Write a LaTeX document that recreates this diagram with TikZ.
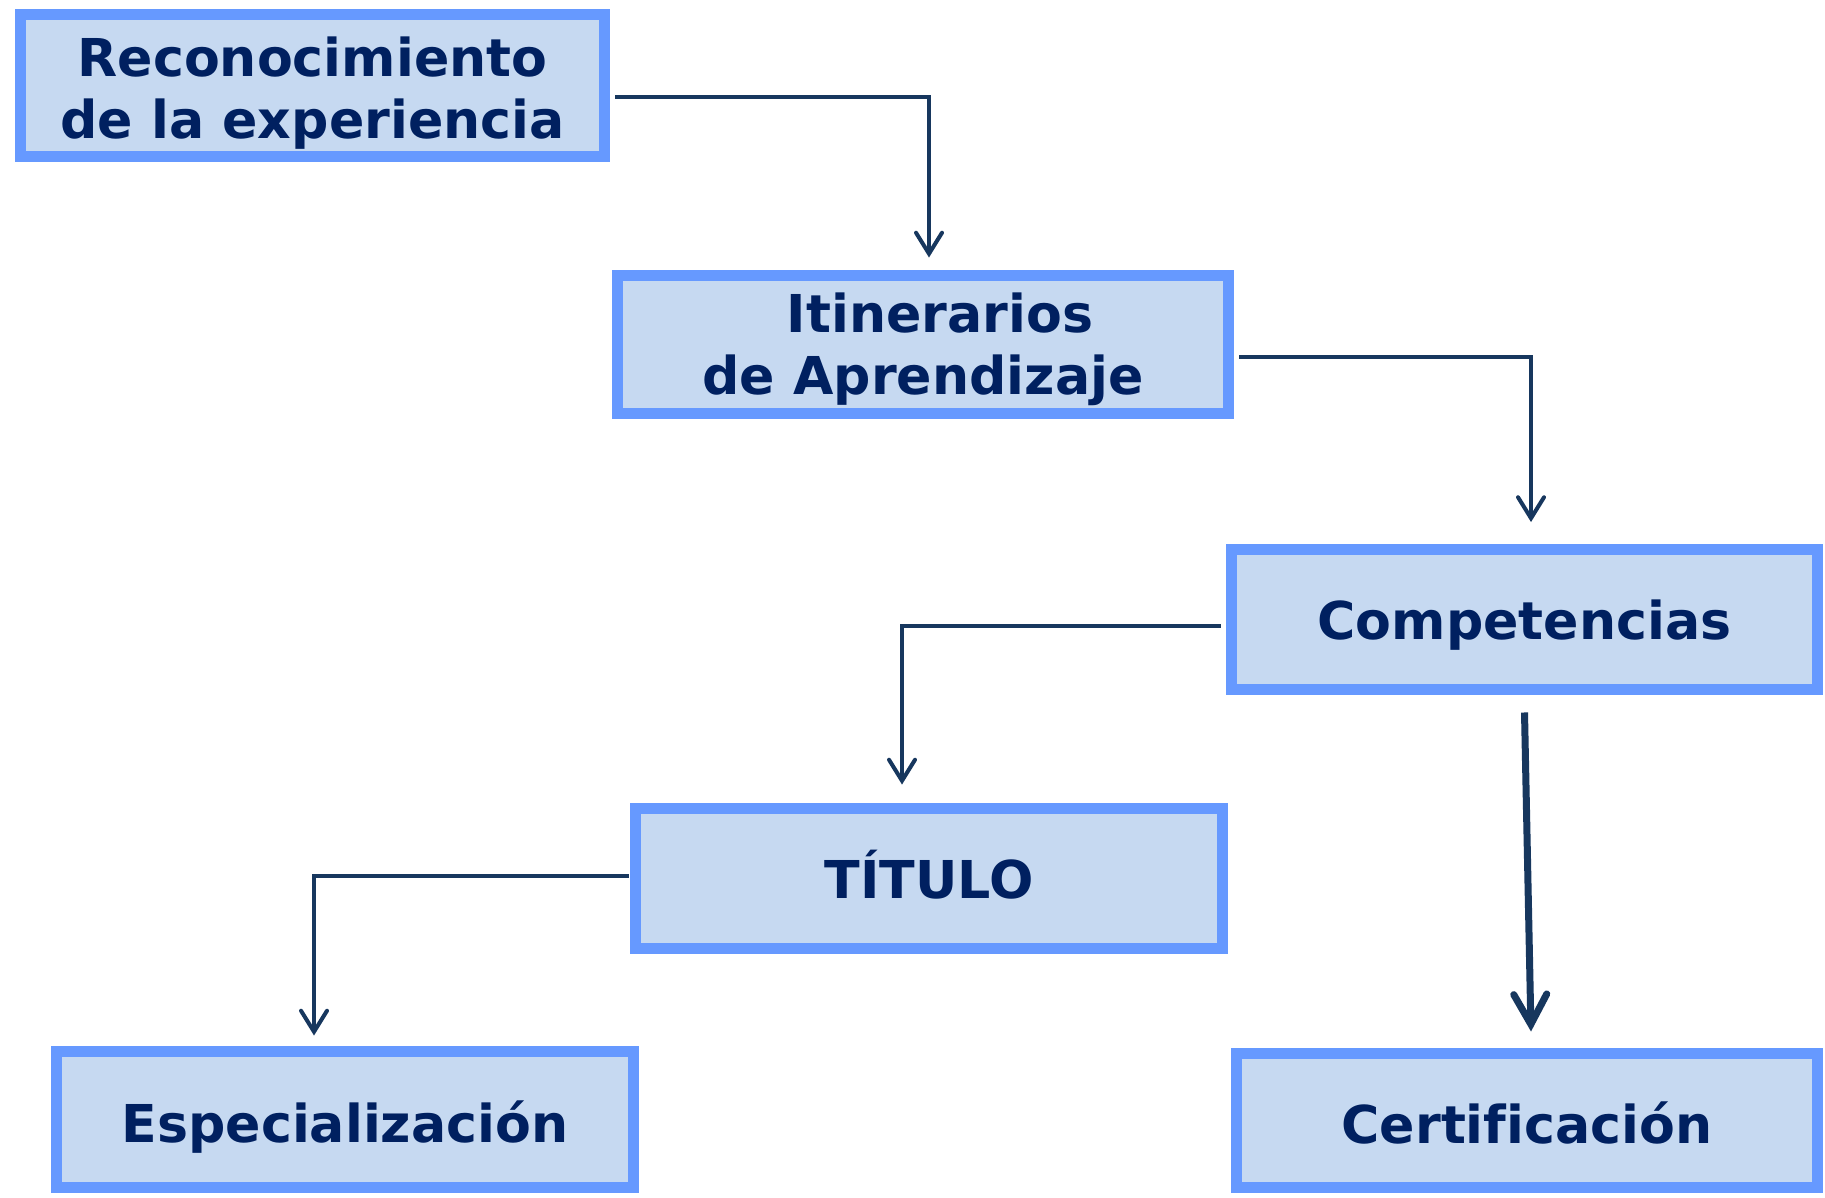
\documentclass[tikz,border=0pt]{standalone}
\usepackage{fontspec}
\setmainfont{DejaVu Sans}[Ligatures=NoCommon]
\usetikzlibrary{arrows.meta}
\definecolor{boxfill}{HTML}{C6D9F1}
\definecolor{boxline}{HTML}{6699FF}
\definecolor{txt}{HTML}{002060}
\definecolor{arr}{HTML}{17375E}
\begin{document}
\begin{tikzpicture}[x=0.02cm,y=-0.02cm,
  box/.style={draw=boxline,fill=boxfill,line width=0.22cm,inner sep=0pt,
    text=txt,font=\fontsize{29.7}{35.3}\selectfont\bfseries,align=center},
  oneline/.style={text height=#1,text depth=0pt},
  conn/.style={draw=arr,line width=0.08cm,
    -{Straight Barb[length=0.42cm,width=0.52cm,line cap=round]}},
  bigconn/.style={draw=arr,line width=0.14cm,
    -{Straight Barb[length=0.6cm,width=0.66cm,line cap=round]}}]
\useasboundingbox (0,0) rectangle (1825,1197);
\fill[white] (0,0) rectangle (1825,1197);
\node[box,minimum width=11.68cm,minimum height=2.84cm] (b1) at (312.5,85.5) {\rule{0pt}{1.09cm}Reconocimiento\\de la experiencia};
\node[box,minimum width=12.22cm,minimum height=2.76cm] (b2) at (923,344.5) {\rule{0pt}{0.99cm}\hspace*{0.68cm}Itinerarios\\de Aprendizaje};
\node[box,oneline=0.79cm,minimum width=11.72cm,minimum height=2.80cm] (b3) at (1524.5,619.5) {Competencias};
\node[box,oneline=0.78cm,minimum width=11.74cm,minimum height=2.80cm] (b4) at (929,878.5) {TÍTULO};
\node[box,oneline=0.92cm,minimum width=11.54cm,minimum height=2.72cm] (b5) at (345,1119.5) {Especialización};
\node[box,oneline=0.92cm,minimum width=11.62cm,minimum height=2.68cm] (b6) at (1527,1120.5) {Certificación};
\draw[conn] ([xshift=0.11cm,yshift=-0.23cm]b1.east) -| ([xshift=0.12cm,yshift=0.25cm]b2.north);
\draw[conn] ([xshift=0.11cm,yshift=-0.25cm]b2.east) -| ([xshift=0.13cm,yshift=0.44cm]b3.north);
\draw[conn] ([xshift=-0.11cm,yshift=-0.13cm]b3.west) -| ([xshift=-0.54cm,yshift=0.37cm]b4.north);
\draw[conn] ([xshift=-0.03cm,yshift=0.05cm]b4.west) -| ([xshift=-0.62cm,yshift=0.21cm]b5.north);
\draw[bigconn] ([yshift=-0.35cm]b3.south) -- ([xshift=0.08cm,yshift=0.33cm]b6.north);
\end{tikzpicture}
\end{document}
